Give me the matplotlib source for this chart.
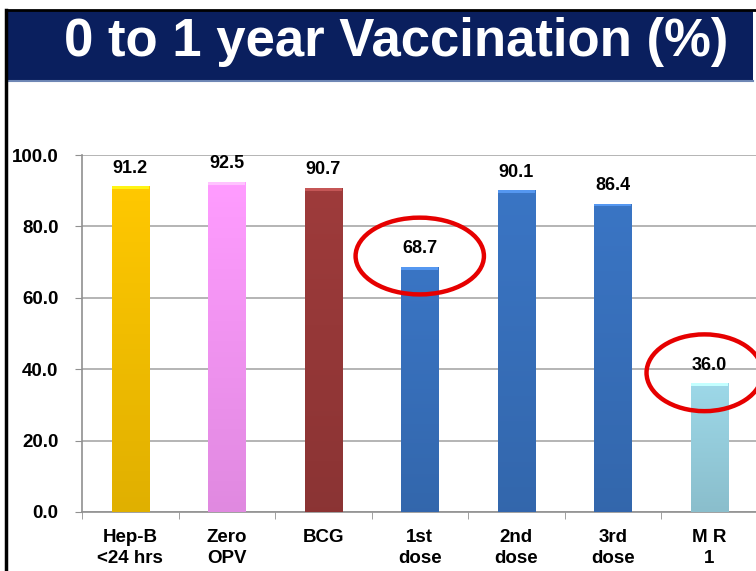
import matplotlib.pyplot as plt
import matplotlib.colors as mcolors
from matplotlib.patches import Ellipse, Rectangle
from matplotlib.lines import Line2D
import numpy as np

# Data
categories = ['Hep-B\n<24 hrs', 'Zero\nOPV', 'BCG', '1st\ndose', '2nd\ndose', '3rd\ndose', 'M R\n1']
values = [91.2, 92.5, 90.7, 68.7, 90.1, 86.4, 36.0]
bar_colors = ['#FFC800', '#FF9CFF', '#9E3B3B', '#3A75C4', '#3A75C4', '#3A75C4', '#9DD8E8']
highlighted = [3, 6]  # bars circled in red
yticks = [0, 20, 40, 60, 80, 100]

plt.rcParams['font.family'] = ['Liberation Sans', 'DejaVu Sans']

fig = plt.figure(figsize=(7.56, 5.71), dpi=100)
fig.patch.set_facecolor('white')

W, H = 756, 571

# Title banner
fig.patches.append(Rectangle((7 / W, 1 - 80 / H), 746 / W, 70 / H, transform=fig.transFigure,
                             facecolor='#0A1F5E', edgecolor='none', zorder=0))
fig.lines.append(Line2D([7 / W, 753 / W], [1 - 81 / H, 1 - 81 / H], transform=fig.transFigure,
                        color='#6F87B5', lw=1.5))
# black frame (left and top)
fig.lines.append(Line2D([6 / W, 6 / W], [0, 1 - 10 / H], transform=fig.transFigure, color='black', lw=2.5))
fig.lines.append(Line2D([6 / W, 756 / W], [1 - 10 / H, 1 - 10 / H], transform=fig.transFigure, color='black', lw=2))

fig.text(396 / W, 1 - 42 / H, '0 to 1 year Vaccination (%)', color='white', fontsize=38,
         fontweight='bold', ha='center', va='center')

ax = fig.add_axes([82 / W, 59 / H, 675.5 / W, 357 / H])
x = np.arange(len(categories))
bars = ax.bar(x, values, width=0.385, color=bar_colors, edgecolor='none', zorder=3)

# light vertical shading on each bar (darker toward the bottom)
for b, c in zip(bars, bar_colors):
    rgb = np.array(mcolors.to_rgb(c))
    top = rgb
    bot = rgb * 0.88
    grad = np.linspace(0, 1, 64)[:, None, None]
    img = top * (1 - grad) + bot * grad
    bx, bw, bh = b.get_x(), b.get_width(), b.get_height()
    im = ax.imshow(img, extent=[bx, bx + bw, 0, bh], aspect='auto', zorder=3.5, origin='upper')
    im.set_clip_path(b)
    cap = Rectangle((bx, bh - 0.8), bw, 0.8, facecolor=np.clip(rgb * 1.12 + 0.08, 0, 1),
                    edgecolor='none', zorder=4)
    ax.add_patch(cap)

for xi, v in zip(x, values):
    ax.annotate(f'{v:.1f}', (xi, v), xytext=(0, 7), textcoords='offset points',
                ha='center', va='bottom', fontsize=13, fontweight='bold', color='black')

# red circles around low values
for i in highlighted:
    ax.add_patch(Ellipse((x[i] - 0.05 * (i == 6), values[i] + 3), 1.2 if i == 6 else 1.33, 21.5,
                         facecolor='none', edgecolor='#E60000', lw=3.2, zorder=6, clip_on=False))

ax.set_xlim(-0.5, len(categories) - 0.5)
ax.set_ylim(0, 100)
ax.set_yticks(yticks)
ax.set_yticklabels([f'{t:.1f}' for t in yticks], fontsize=13.5, fontweight='bold')
ax.set_xticks(x)
ax.set_xticklabels(categories, fontsize=13.5, fontweight='bold', linespacing=1.3)
ax.set_xticks(np.arange(len(categories) + 1) - 0.5, minor=True)
ax.tick_params(axis='x', which='major', length=0, pad=12)
ax.tick_params(axis='x', which='minor', length=5, color='#909090', direction='out')
ax.tick_params(axis='y', length=5, color='#909090', pad=12)

ax.grid(axis='y', color='#A8A8A8', lw=1.2, zorder=0)
for s in ['top', 'right']:
    ax.spines[s].set_visible(False)
for s in ['left', 'bottom']:
    ax.spines[s].set_color('#909090')
    ax.spines[s].set_linewidth(1.2)

plt.savefig('out.png', dpi=100, facecolor='white')
plt.close()
